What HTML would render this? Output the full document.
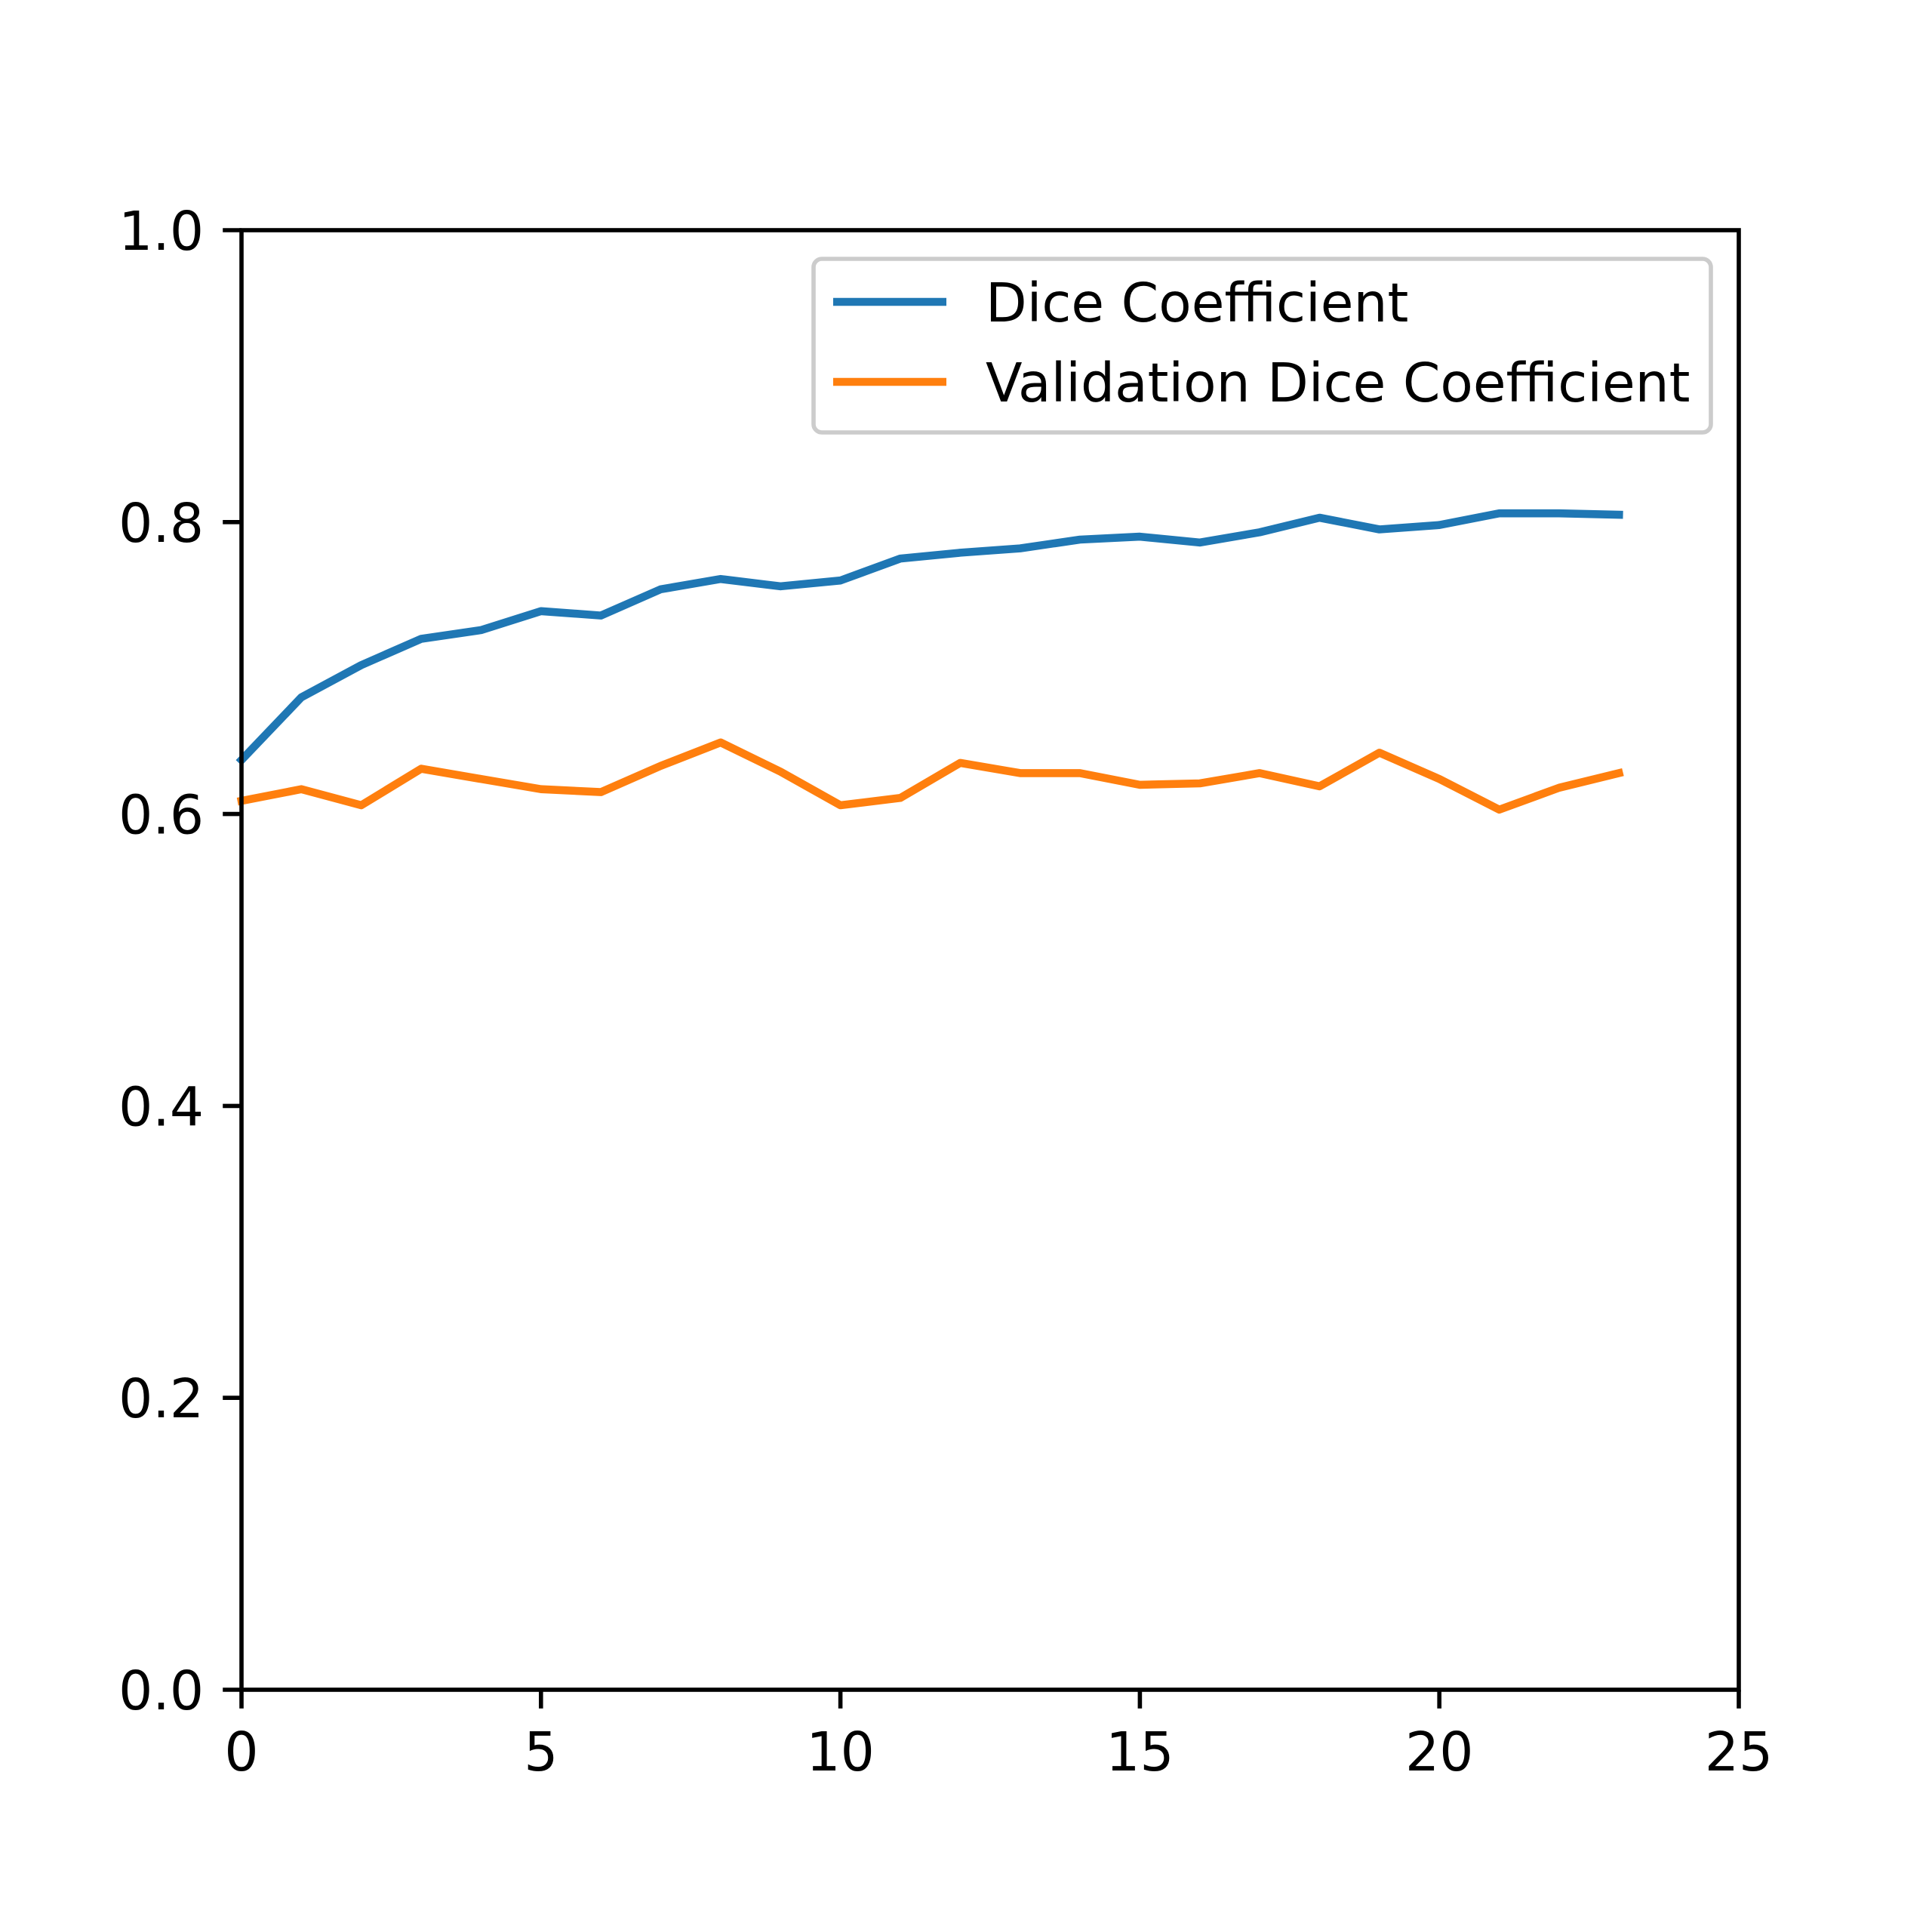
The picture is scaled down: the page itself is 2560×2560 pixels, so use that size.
<!DOCTYPE html>
<html><head><meta charset="utf-8"><style>
html,body{margin:0;padding:0;background:#fff;}
svg{display:block;font-family:"DejaVu Sans","Liberation Sans",sans-serif;}
</style></head><body>
<svg id="chart" width="2560" height="2560" viewBox="0 0 2560 2560">
<rect width="2560" height="2560" fill="#fff"/>
<g id="plot"></g>
</svg>
<script>
const epochs = [0,1,2,3,4,5,6,7,8,9,10,11,12,13,14,15,16,17,18,19,20,21,22,23];
const diceValues = [0.637,0.680,0.702,0.720,0.726,0.739,0.736,0.754,0.761,0.756,0.760,0.775,0.779,0.782,0.788,0.790,0.786,0.793,0.803,0.795,0.798,0.806,0.806,0.805];
const valDiceValues = [0.609,0.617,0.606,0.631,0.624,0.617,0.615,0.633,0.649,0.629,0.606,0.611,0.635,0.628,0.628,0.620,0.621,0.628,0.619,0.642,0.624,0.603,0.618,0.628];
const xTicks = [0,5,10,15,20,25];
const yTicks = [0.0,0.2,0.4,0.6,0.8,1.0];
const yTickLabels = ["0.0","0.2","0.4","0.6","0.8","1.0"];
const seriesNames = ["Dice Coefficient","Validation Dice Coefficient"];

const L=320,R=2304,T=305,B=2239;
const FS=71, LW=10.6, AW=5.6, TL=24.8;
const xs=v=>L+(v-0)/(25-0)*(R-L);
const ys=v=>B-(v-0)/(1-0)*(B-T);
const NS="http://www.w3.org/2000/svg";
const g=document.getElementById('plot');
function mk(tag,attrs){const e=document.createElementNS(NS,tag);for(const k in attrs)e.setAttribute(k,attrs[k]);g.appendChild(e);return e;}

function drawLine(vals,color,name){
  const d=vals.map((v,i)=>(i?'L':'M')+xs(epochs[i]).toFixed(1)+','+ys(v).toFixed(1)).join(' ');
  const p=mk('path',{d:d,fill:'none',stroke:color,'stroke-width':LW,'stroke-linejoin':'round','stroke-linecap':'square'});
  
  
}
drawLine(diceValues,'#1f77b4','dice-coefficient-line');
drawLine(valDiceValues,'#ff7f0e','validation-dice-coefficient-line');

const frame=mk('rect',{x:L,y:T,width:R-L,height:B-T,fill:'none',stroke:'#000','stroke-width':AW});



xTicks.forEach(t=>{
  const x=xs(t);
  const tk=mk('line',{x1:x,x2:x,y1:B,y2:B+TL,stroke:'#000','stroke-width':AW});
  
  
  const tx=mk('text',{x:x,y:2346,'font-size':FS,'text-anchor':'middle',fill:'#000'});
  tx.textContent=String(t);
  
  
});
yTicks.forEach((t,i)=>{
  const y=ys(t);
  const tk=mk('line',{x1:L-TL,x2:L,y1:y,y2:y,stroke:'#000','stroke-width':AW});
  
  
  const tx=mk('text',{x:270,y:y+26,'font-size':FS,'text-anchor':'end',fill:'#000'});
  tx.textContent=yTickLabels[i];
  
  
});

const lg=mk('rect',{x:1078,y:343,width:1189,height:230,rx:11,fill:'#fff','fill-opacity':0.8,stroke:'#ccc','stroke-width':5.6});


const colors=['#1f77b4','#ff7f0e'];
[400,506].forEach((y,i)=>{
  const ln=mk('line',{x1:1104,x2:1254,y1:y,y2:y,stroke:colors[i],'stroke-width':LW});
  
  
  const tx=mk('text',{x:1306,y:y+26,'font-size':FS,fill:'#000'});
  tx.textContent=seriesNames[i];
  
  
});
</script>
</body></html>
